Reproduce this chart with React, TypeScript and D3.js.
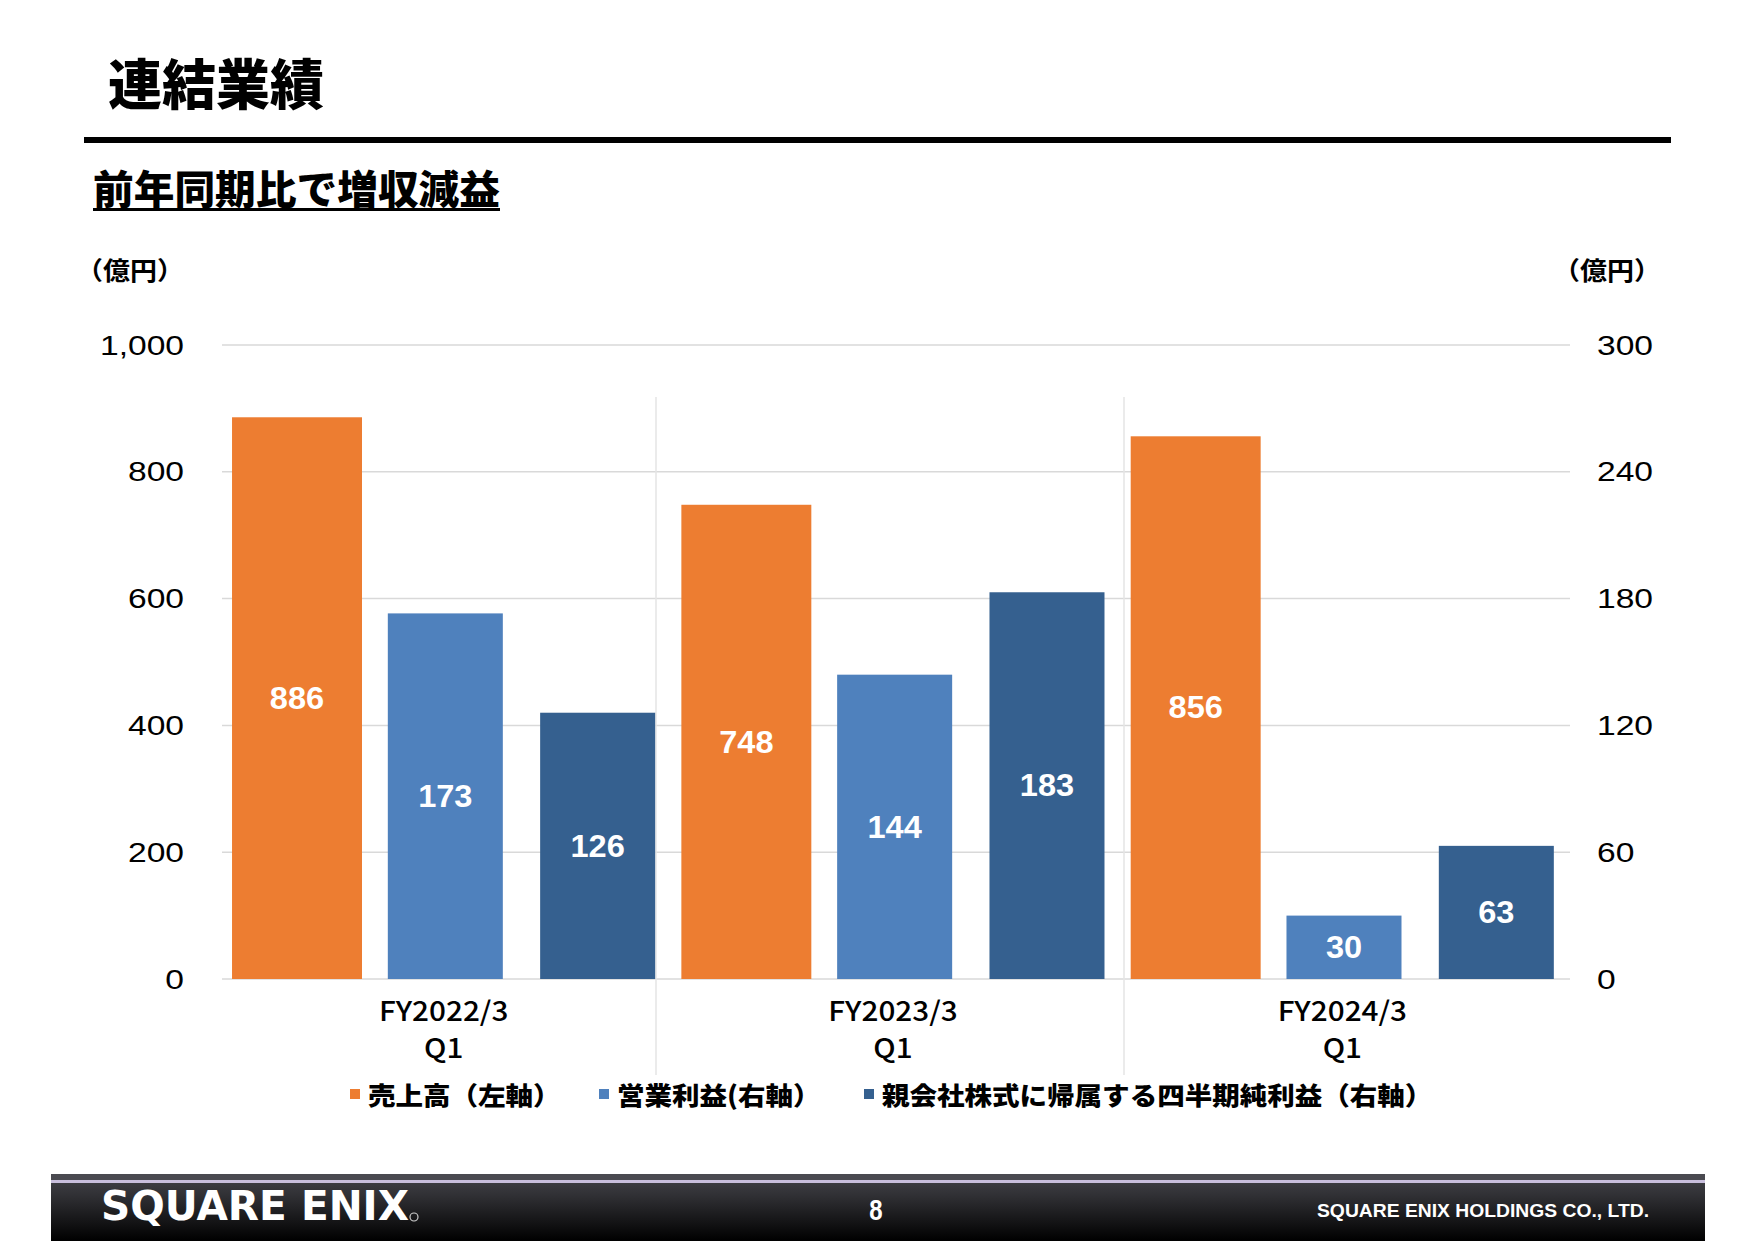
import React from "react";
import * as d3 from "d3";

const catLine1 = ["FY2022/3", "FY2023/3", "FY2024/3"];
const catLine2 = ["Q1", "Q1", "Q1"];
const sales = [886, 748, 856];
const operatingIncome = [173, 144, 30];
const netIncome = [126, 183, 63];
const leftTicks = [0, 200, 400, 600, 800, 1000];
const rightTicks = [0, 60, 120, 180, 240, 300];
const seriesNames = ["売上高（左軸）", "営業利益(右軸）", "親会社株式に帰属する四半期純利益（右軸）"];
const seriesColors = ["#ED7D31", "#4F81BD", "#35608F"];

const W = 1755;
const H = 1241;
const plotLeft = 222;
const plotRight = 1570;
const yTop = 345;
const yBottom = 979;

const JP = "'Noto Sans CJK JP', 'Noto Sans', sans-serif";
const NUM = "'Liberation Sans', Arial, sans-serif";

const T = ({ x, y, sx = 1, children, ...rest }: any) => (
  <text transform={`translate(${x},${y}) scale(${sx},1)`} dominantBaseline="central" {...rest}>
    {children}
  </text>
);

export default function App() {
  const x = d3.scaleBand<string>().domain(catLine1).range([plotLeft, plotRight]);
  const xSep = d3.scaleBand<string>().domain(catLine1).range([188, 1592]);
  const bw = x.bandwidth();
  const inner = d3
    .scaleBand<number>()
    .domain([0, 1, 2])
    .range([bw * 0.03, bw * 0.964])
    .paddingInner(0.245);
  const yL = d3.scaleLinear().domain([0, 1000]).range([yBottom, yTop]);
  const yR = d3.scaleLinear().domain([0, 300]).range([yBottom, yTop]);

  const bars: any[] = [];
  catLine1.forEach((c, i) => {
    const gx = x(c)!;
    const vals = [sales[i], operatingIncome[i], netIncome[i]];
    vals.forEach((v, s) => {
      const sc = s === 0 ? yL : yR;
      const bwi = inner.bandwidth();
      const w = s === 0 ? bwi * 1.13 : bwi;
      const x0 = gx + inner(s)! - (s === 0 ? bwi * 0.03 : 0);
      const top = sc(v);
      bars.push(
        <g key={`${i}-${s}`}>
          <rect x={x0} y={top} width={w} height={sc(0) - top} fill={seriesColors[s]} />
          <T x={x0 + w / 2} y={(top + sc(0)) / 2} sx={1.05} textAnchor="middle" fill="#fff" fontFamily={NUM} fontWeight="bold" fontSize={31}>
            {v}
          </T>
        </g>
      );
    });
  });

  const legendX = [350, 599, 864];

  return (
    <svg width={W} height={H} style={{ position: "absolute", left: 0, top: 0 }}>
      <defs>
        <linearGradient id="foot" x1="0" y1="0" x2="0" y2="1">
          <stop offset="0" stopColor="#45454b" />
          <stop offset="0.35" stopColor="#2e2e32" />
          <stop offset="1" stopColor="#000" />
        </linearGradient>
      </defs>
      <rect width={W} height={H} fill="#fff" />

      {/* Title */}
      <T x={108} y={81} fontFamily={JP} fontWeight={900} fontSize={54} fill="#000">連結業績</T>
      <rect x={84} y={137} width={1587} height={6} fill="#000" />
      <T x={93} y={187} fontFamily={JP} fontWeight={900} fontSize={40} fill="#000" textLength={407} lengthAdjust="spacingAndGlyphs">前年同期比で増収減益</T>
      <rect x={93} y={208} width={407} height={3} fill="#000" />

      {/* Unit labels */}
      <T x={76} y={269} sx={1.08} fontFamily={JP} fontWeight={700} fontSize={25} fill="#000">（億円）</T>
      <T x={1553} y={269} sx={1.08} fontFamily={JP} fontWeight={700} fontSize={25} fill="#000">（億円）</T>

      {/* Gridlines */}
      {leftTicks.map((t) => (
        <line key={t} x1={plotLeft} x2={plotRight} y1={yL(t)} y2={yL(t)} stroke="#D9D9D9" strokeWidth={1.5} />
      ))}
      {/* Category separators */}
      {catLine1.slice(1).map((c) => (
        <line key={c} x1={xSep(c)!} x2={xSep(c)!} y1={397} y2={1075} stroke="#E4E4E4" strokeWidth={1.5} />
      ))}

      {/* Ticks */}
      {leftTicks.map((t) => (
        <T key={t} x={184} y={yL(t)} sx={1.2} textAnchor="end" fontFamily={NUM} fontSize={28} fill="#000">
          {d3.format(",")(t)}
        </T>
      ))}
      {rightTicks.map((t) => (
        <T key={t} x={1597} y={yR(t)} sx={1.2} textAnchor="start" fontFamily={NUM} fontSize={28} fill="#000">
          {t}
        </T>
      ))}

      {bars}

      {/* Category labels */}
      {catLine1.map((c, i) => (
        <g key={c}>
          <T x={x(c)! + bw / 2 - 3} y={1009} sx={1.1} textAnchor="middle" fontFamily={JP} fontWeight={500} fontSize={27} fill="#000">{c}</T>
          <T x={x(c)! + bw / 2 - 3} y={1046} sx={1.1} textAnchor="middle" fontFamily={JP} fontWeight={500} fontSize={27} fill="#000">{catLine2[i]}</T>
        </g>
      ))}

      {/* Legend */}
      {seriesNames.map((n, i) => (
        <g key={n}>
          <rect x={legendX[i]} y={1089} width={10} height={10} fill={seriesColors[i]} />
          <T x={legendX[i] + 18} y={1094} sx={1.08} fontFamily={JP} fontWeight={900} fontSize={25.5} fill="#000">{n}</T>
        </g>
      ))}

      {/* Footer */}
      <rect x={51} y={1174} width={1654} height={67} fill="url(#foot)" />
      <rect x={51} y={1174} width={1654} height={6} fill="#4a4a50" />
      <rect x={51} y={1180} width={1654} height={3} fill="#C9BFDD" />
      <T x={101} y={1206} fontFamily="'DejaVu Sans', sans-serif" fontWeight="bold" fontSize={40} fill="#fff" textLength={308} lengthAdjust="spacingAndGlyphs">SQUARE ENIX</T>
      <circle cx={414} cy={1217} r={4} fill="none" stroke="#ccc" strokeWidth={1.2} />
      <T x={876} y={1210} textAnchor="middle" fontFamily={NUM} fontWeight="bold" fontSize={30} fill="#fff" sx={0.8}>8</T>
      <T x={1317} y={1210} fontFamily={NUM} fontWeight="bold" fontSize={19} fill="#fff" textLength={332} lengthAdjust="spacingAndGlyphs">SQUARE ENIX HOLDINGS CO., LTD.</T>
    </svg>
  );
}
